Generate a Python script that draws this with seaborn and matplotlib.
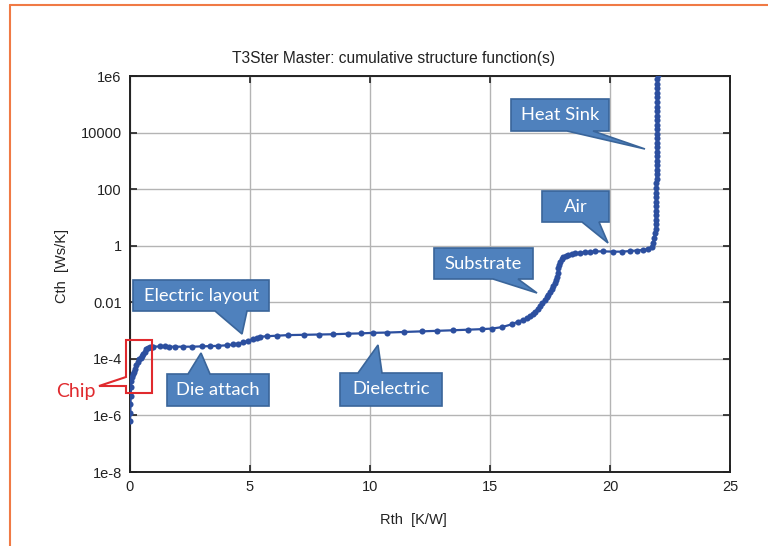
import numpy as np
import pandas as pd
import matplotlib
matplotlib.use("Agg")
import matplotlib.pyplot as plt
import seaborn as sns
from matplotlib.patches import Polygon
from matplotlib.lines import Line2D

# ---------------- data ----------------
rth = [
    0.00, 0.01, 0.02, 0.03, 0.04, 0.06, 0.08, 0.11, 0.15, 0.20, 0.26, 0.32, 0.38, 0.44,
    0.50, 0.56, 0.62, 0.68, 0.74, 0.82, 0.90,
    0.97, 1.25, 1.46, 1.64, 1.88, 2.22, 2.57, 2.99, 3.33, 3.68, 4.03, 4.31, 4.51, 4.72,
    4.93, 5.14, 5.28, 5.42, 5.70, 6.11,
    6.60, 7.25, 7.89, 8.47, 9.10, 9.61, 10.14, 10.72, 11.43, 12.18, 12.80, 13.44, 14.10,
    14.65, 15.07, 15.49, 15.90, 16.18, 16.39, 16.55, 16.67, 16.78, 16.88, 16.98, 17.08,
    17.18, 17.29, 17.36, 17.43, 17.50, 17.57, 17.64, 17.71, 17.75, 17.78, 17.82, 17.85,
    17.88, 17.92, 17.98, 18.06, 18.15, 18.26, 18.40, 18.54, 18.75, 18.96, 19.17, 19.38,
    19.72, 20.14, 20.49, 20.83, 21.11, 21.39, 21.60, 21.74, 21.80, 21.83, 21.875,
    21.90, 21.905, 21.91, 21.91, 21.915, 21.92, 21.92, 21.925, 21.93, 21.93, 21.935,
    21.94, 21.94, 21.945, 21.95, 21.95, 21.952, 21.955, 21.957, 21.96, 21.96, 21.962,
    21.964, 21.966, 21.968, 21.97, 21.97, 21.972, 21.974, 21.975,
    21.976, 21.977, 21.978, 21.979, 21.98, 21.98,
]
cth_log10 = [
    -6.20, -5.90, -5.60, -5.30, -5.00, -4.80, -4.65, -4.55, -4.45, -4.35, -4.22, -4.10,
    -4.02, -3.97, -3.90, -3.82, -3.74, -3.66, -3.60, -3.57, -3.57,
    -3.57, -3.56, -3.56, -3.57, -3.57, -3.57, -3.57, -3.56, -3.55, -3.54, -3.52, -3.49,
    -3.46, -3.42, -3.36, -3.29, -3.25, -3.22, -3.20, -3.18,
    -3.16, -3.15, -3.14, -3.13, -3.11, -3.10, -3.08, -3.07, -3.05, -3.03, -3.01, -2.99,
    -2.97, -2.95, -2.93, -2.88, -2.78, -2.68, -2.62, -2.55, -2.48, -2.40, -2.33, -2.23,
    -2.13, -2.03, -1.92, -1.83, -1.74, -1.64, -1.54, -1.44, -1.33, -1.21, -1.09, -0.95,
    -0.80, -0.68, -0.56, -0.48, -0.41, -0.37, -0.33, -0.30, -0.27, -0.245, -0.23, -0.22,
    -0.20, -0.20, -0.21, -0.21, -0.19, -0.17, -0.15, -0.12, -0.03, 0.09, 0.26, 0.44,
    0.60, 0.76, 0.92, 1.08, 1.24, 1.40, 1.56, 1.72, 1.88, 2.04, 2.20, 2.36, 2.52, 2.68,
    2.84, 3.00, 3.16, 3.32, 3.48, 3.64, 3.80, 3.96, 4.12, 4.28, 4.44, 4.60, 4.76, 4.92,
    5.08, 5.24,
    5.40, 5.56, 5.72, 5.88, 6.04, 6.20,
]

x_ticks = [0, 5, 10, 15, 20, 25]
y_ticks = [1e-8, 1e-6, 1e-4, 1e-2, 1, 100, 10000, 1e6]
y_tick_labels = ["1e-8", "1e-6", "1e-4", "0.01", "1", "100", "10000", "1e6"]

callout_labels = ["Electric layout", "Die attach", "Dielectric", "Substrate", "Air", "Heat Sink"]

title = "T3Ster Master: cumulative structure function(s)"
x_label = "Rth  [K/W]"
y_label = "Cth  [Ws/K]"

# ---------------- figure ----------------
W, H = 768, 546
sns.set_theme(style="white")
plt.rcParams["font.family"] = ["Liberation Sans", "DejaVu Sans"]

fig = plt.figure(figsize=(W / 100, H / 100), dpi=100)
fig.patch.set_facecolor("white")

ax = fig.add_axes([130 / W, 1 - 472 / H, 600 / W, 396 / H])

df = pd.DataFrame({"Rth": rth, "Cth": np.power(10.0, cth_log10)})
sns.lineplot(data=df, x="Rth", y="Cth", sort=False, estimator=None, ax=ax,
             color="#2c4f9f", lw=1.6, marker="o", markersize=4.4,
             markeredgewidth=0, zorder=3)

ax.set_yscale("log")
ax.set_xlim(0, 25)
ax.set_ylim(1e-8, 1e6)
ax.set_xticks(x_ticks)
ax.set_xticklabels([str(t) for t in x_ticks])
ax.set_yticks(y_ticks)
ax.set_yticklabels(y_tick_labels)
ax.yaxis.set_minor_locator(matplotlib.ticker.NullLocator())
ax.set_xlabel("")
ax.set_ylabel("")
ax.grid(True, color="#b4b4b4", lw=1.0, zorder=0)
ax.set_axisbelow(True)
for s in ax.spines.values():
    s.set_color("#222222")
    s.set_linewidth(1.4)
    s.set_visible(True)
ax.tick_params(direction="in", length=5, width=1.2, color="#222222",
               top=True, right=True, bottom=True, left=True,
               labelsize=10.5, labelcolor="#222222", pad=6)

# text
fig.text(393 / W, 1 - 58 / H, title, ha="center", va="center", fontsize=11.2, color="#222222")
fig.text(413 / W, 1 - 520 / H, x_label, ha="center", va="center", fontsize=10.5, color="#222222")
fig.text(62 / W, 1 - 266 / H, y_label, ha="center", va="center", rotation=90,
         fontsize=10.5, color="#222222")

def P(x, y):
    return (x / W, 1 - y / H)

# orange frame lines
fig.add_artist(Line2D([10 / W, 1.0], [1 - 5 / H, 1 - 5 / H], color="#f07a45", lw=1.5,
                      transform=fig.transFigure))
fig.add_artist(Line2D([10 / W, 10 / W], [1 - 5 / H, 0.0], color="#f07a45", lw=1.5,
                      transform=fig.transFigure))

FILL = "#4f81bd"
EDGE = "#3a659a"
CFONT = ["Lato", "DejaVu Sans"]

def callout(box, base, tip, side, text):
    x0, y0, x1, y1 = box
    b1, b2 = base
    if side == "bottom":
        pts = [(x0, y0), (x1, y0), (x1, y1), (b2, y1), tip, (b1, y1), (x0, y1)]
    else:
        pts = [(x0, y0), (b1, y0), tip, (b2, y0), (x1, y0), (x1, y1), (x0, y1)]
    poly = Polygon([P(*p) for p in pts], closed=True, facecolor=FILL, edgecolor=EDGE,
                   lw=1.2, transform=fig.transFigure, zorder=5)
    fig.add_artist(poly)
    fig.text((x0 + x1) / 2 / W, 1 - (y0 + y1) / 2 / H, text, ha="center", va="center",
             color="white", fontsize=13.2, family=CFONT, zorder=6)

callout((133, 280, 269, 311), (215, 247), (242, 334), "bottom", callout_labels[0])
callout((167, 374, 269, 406), (188, 210), (201, 353), "top", callout_labels[1])
callout((340, 373, 442, 406), (358, 382), (378, 345), "top", callout_labels[2])
callout((434, 248, 533, 279), (493, 518), (537, 293), "bottom", callout_labels[3])
callout((542, 191, 609, 222), (582, 599), (608, 243), "bottom", callout_labels[4])
callout((511, 99, 609, 131), (567, 593), (645, 149), "bottom", callout_labels[5])

# chip callout (red outline)
RED = "#e02a2e"
chip_pts = [(126, 340), (152, 340), (152, 393), (126, 393), (126, 386), (99, 386),
            (126, 377)]
fig.add_artist(Polygon([P(*p) for p in chip_pts], closed=True, facecolor="none",
                       edgecolor=RED, lw=1.5, transform=fig.transFigure, zorder=5))
fig.text(76 / W, 1 - 391 / H, "Chip", ha="center", va="center", color=RED,
         fontsize=14, family=CFONT, zorder=6)

fig.savefig("out.png", dpi=100, facecolor="white")
